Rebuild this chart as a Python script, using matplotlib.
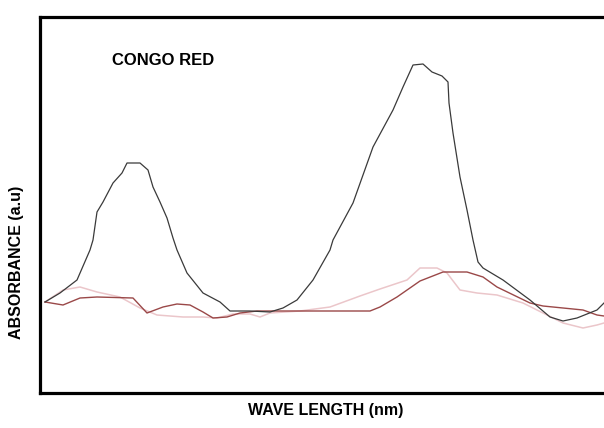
import matplotlib.pyplot as plt

# wavelength (arbitrary nm scale, no ticks shown) and absorbance (a.u.)
wl_black = [245, 260, 277, 290, 293, 297, 303, 313, 322, 327, 340, 348, 353, 360, 367, 373, 377,
            387, 403, 420, 430, 450, 470, 483, 497, 513, 530, 533, 553, 573, 593, 603, 613, 623,
            632, 642, 648, 649, 653, 660, 667, 673, 678, 683, 703, 730, 750, 763, 777, 797, 804]
abs_black = [0.91, 1.00, 1.13, 1.43, 1.53, 1.81, 1.91, 2.10, 2.20, 2.30, 2.30, 2.23, 2.06, 1.91,
             1.75, 1.55, 1.43, 1.20, 1.00, 0.91, 0.82, 0.82, 0.81, 0.85, 0.93, 1.13, 1.43, 1.53,
             1.90, 2.46, 2.83, 3.06, 3.28, 3.29, 3.21, 3.17, 3.11, 2.90, 2.60, 2.16, 1.83, 1.53,
             1.31, 1.25, 1.13, 0.93, 0.76, 0.72, 0.75, 0.83, 0.90]

wl_pink = [245, 263, 280, 297, 320, 340, 357, 383, 403, 417, 433, 450, 460, 470, 500, 530, 560,
           580, 595, 607, 620, 637, 647, 660, 677, 697, 723, 743, 763, 783, 797, 804]
abs_pink = [0.91, 1.03, 1.06, 1.01, 0.96, 0.85, 0.78, 0.76, 0.76, 0.75, 0.79, 0.79, 0.76, 0.80,
            0.82, 0.86, 0.97, 1.04, 1.09, 1.13, 1.25, 1.25, 1.20, 1.03, 1.00, 0.98, 0.90, 0.80,
            0.70, 0.65, 0.68, 0.70]

wl_red = [245, 263, 280, 297, 333, 347, 363, 377, 390, 403, 413, 427, 440, 457, 530, 570, 580,
          597, 620, 643, 667, 683, 697, 730, 743, 783, 797, 804]
abs_red = [0.91, 0.88, 0.95, 0.96, 0.95, 0.80, 0.86, 0.89, 0.88, 0.81, 0.75, 0.76, 0.80, 0.82,
           0.82, 0.82, 0.86, 0.96, 1.12, 1.21, 1.21, 1.16, 1.06, 0.90, 0.87, 0.83, 0.78, 0.77]

plt.rcParams['font.family'] = ['Liberation Sans', 'DejaVu Sans']

fig = plt.figure(figsize=(6.04, 4.28), dpi=100)
ax = fig.add_axes([40 / 604, 35 / 428, 564 / 604, 376 / 428])

ax.plot(wl_pink, abs_pink, color='#ebc6ca', lw=1.1)
ax.plot(wl_red, abs_red, color='#9a4848', lw=1.0)
ax.plot(wl_black, abs_black, color='#3a3a3a', lw=0.9)

ax.set_xlim(240, 804)
ax.set_ylim(0, 3.76)
ax.set_xticks([])
ax.set_yticks([])
ax.spines['right'].set_visible(False)
for s in ['left', 'top', 'bottom']:
    ax.spines[s].set_linewidth(2.3)
    ax.spines[s].set_color('black')

ax.text(0.128, 0.883, 'CONGO RED', transform=ax.transAxes, fontsize=12,
        fontweight='bold', va='center', ha='left')

fig.text(0.028, 0.388, 'ABSORBANCE (a.u)', rotation=90, fontsize=11.5,
         fontweight='bold', ha='center', va='center')
fig.text(0.540, 0.040, 'WAVE LENGTH (nm)', fontsize=11.5, fontweight='bold',
         ha='center', va='center')

fig.savefig('out.png', dpi=100)
